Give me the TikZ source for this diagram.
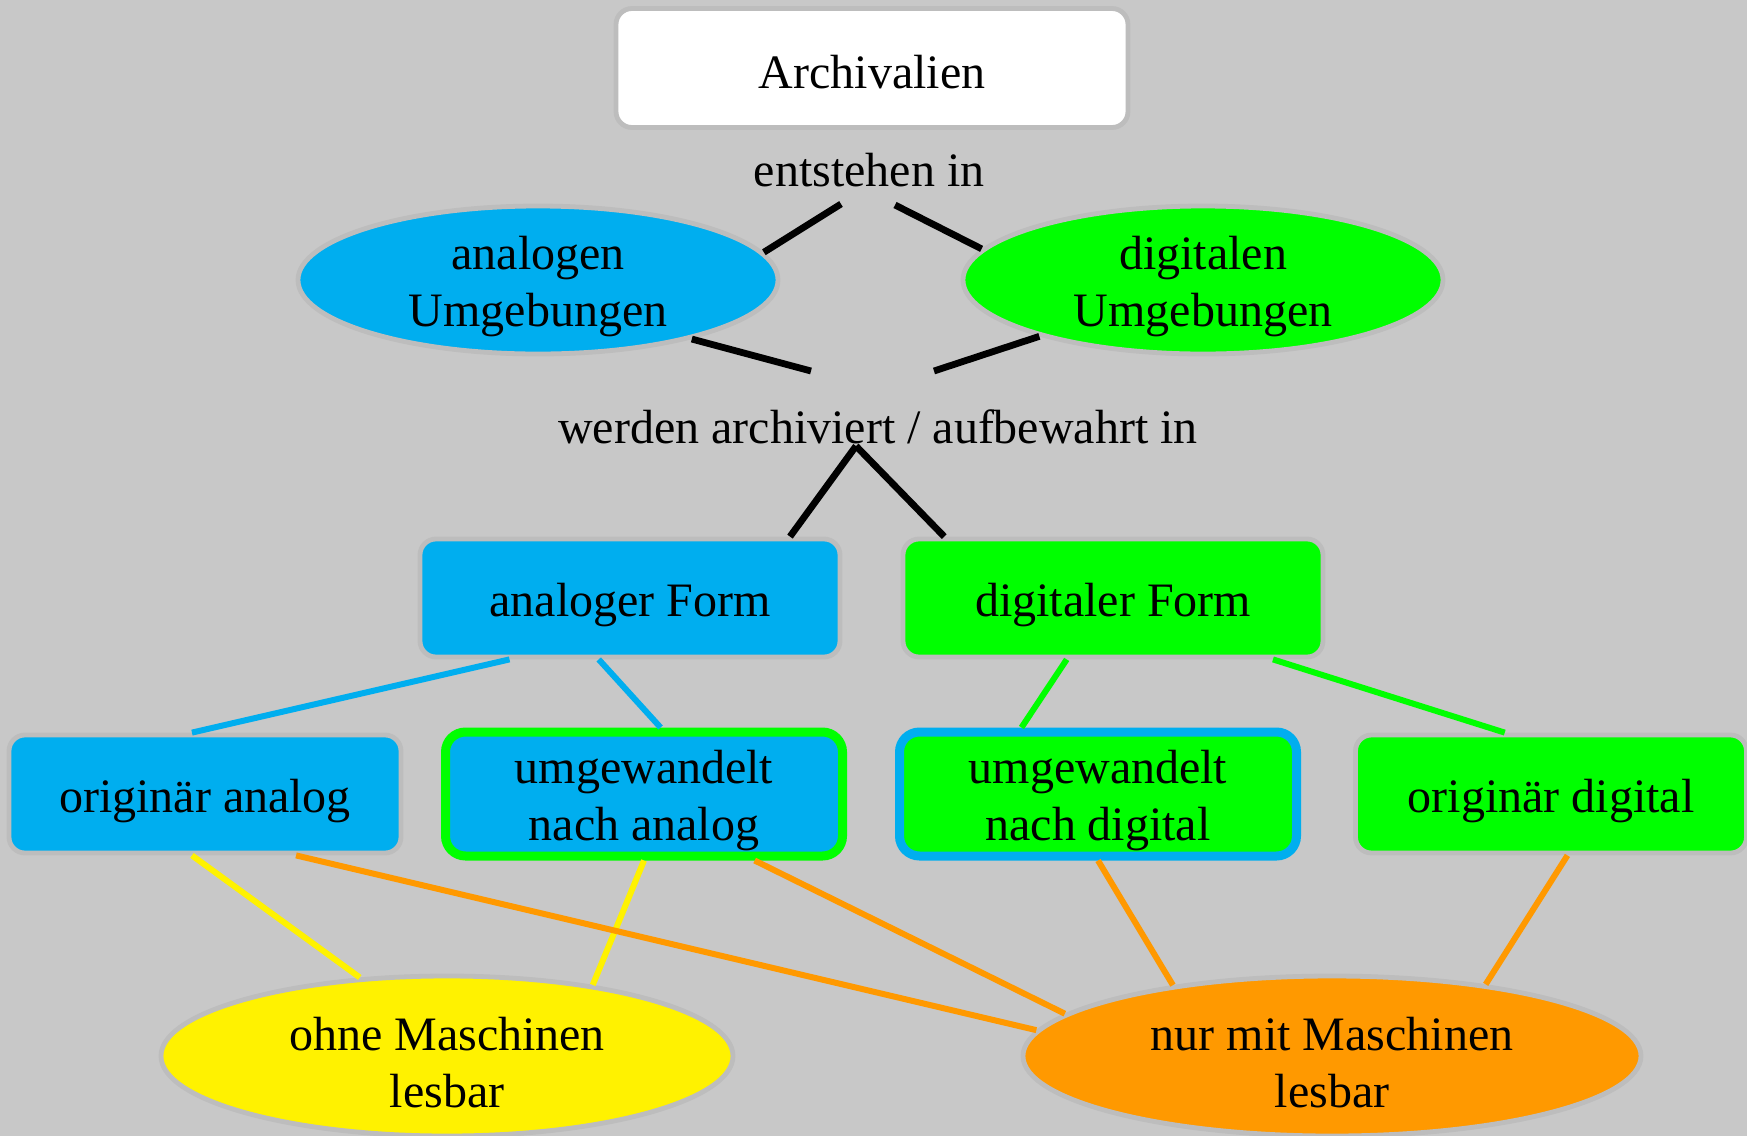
\documentclass[tikz,border=0pt]{standalone}
\usepackage{fontspec}
\setmainfont{Liberation Serif}
\usetikzlibrary{shapes.geometric, calc}

\definecolor{bgc}{HTML}{C8C8C8}
\definecolor{rand}{HTML}{BDBDBD}
\definecolor{ablau}{HTML}{00AEEF}
\definecolor{dgruen}{HTML}{00FF00}
\definecolor{gelb}{HTML}{FFF200}
\definecolor{morange}{HTML}{FF9900}

% fixed line heights, so that every text sits the same way in its node
\newcommand{\zeile}{\rule[-0.13em]{0pt}{1.11em}}
\newcommand{\hoch}{\rule{0pt}{0.95em}}

\begin{document}
\begin{tikzpicture}[
            x = 0.5pt, y = -0.5pt, % pixel grid, y pointing down
            font = \fontsize{24}{28.5}\selectfont,
            semithick % line style
        ]

        \tikzstyle{box}=[
            rectangle,
            rounded corners = 8pt,
            draw = rand,
            line width = 2.4pt,
            minimum width = 210pt,
            minimum height = 59pt,
            align = center
        ]
        \tikzstyle{zl}=[execute at begin node = \zeile, execute at end node = \zeile]
        \tikzstyle{conv}=[
            box,
            line width = 4.5pt,
            inner ysep = 0pt,
            minimum width = 198.5pt,
            minimum height = 62pt,
            rounded corners = 10pt
        ]
        \tikzstyle{blob}=[
            ellipse,
            draw = rand,
            line width = 2.4pt,
            inner ysep = -5pt,
            align = center
        ]
        \tikzstyle{lbl}=[inner sep = 0pt]
        \tikzstyle{verb}=[line width = 3.4pt, black]
        \tikzstyle{link}=[line width = 3pt]

        \path[use as bounding box, fill = bgc] (0,0) rectangle (1747,1136);

        \node[box, zl, fill = white, minimum width = 256pt, minimum height = 59.5pt] (arch) at (872,68) {Archivalien};
        \node[lbl] (ent) at (869,170) {entstehen in};
        \node[blob, fill = ablau, minimum width = 240pt, minimum height = 74pt] (ana) at (538,280) {\hoch analogen\\Umgebungen};
        \node[blob, fill = dgruen, minimum width = 240pt, minimum height = 74pt] (dig) at (1203,280) {\hoch digitalen\\Umgebungen};
        \node[lbl] (wer) at (878,427) {werden archiviert / aufbewahrt in};

        \node[box, zl, fill = ablau] (aform) at (630,598) {analoger Form};
        \node[box, zl, fill = dgruen] (dform) at (1113,598) {digitaler Form};

        \node[box, zl, fill = ablau, minimum width = 196pt] (origa) at (205,794) {originär analog};
        \node[conv, fill = ablau, draw = dgruen] (umga) at (644,794) {\hoch umgewandelt\\nach analog};
        \node[conv, fill = dgruen, draw = ablau] (umgd) at (1098,794) {\hoch umgewandelt\\nach digital};
        \node[box, zl, fill = dgruen, minimum width = 195.5pt] (origd) at (1551,794) {originär digital};

        \node[blob, fill = gelb, minimum width = 286pt, minimum height = 80pt] (ohne) at (447,1056) {\hoch ohne Maschinen\\lesbar};
        \node[blob, fill = morange, minimum width = 309pt, minimum height = 80pt] (nur) at (1332,1056) {\hoch nur mit Maschinen\\lesbar};

        \coordinate (ent-l) at ($(ent)+(-28,34)$);
        \coordinate (ent-r) at ($(ent)+(26,35)$);
        \coordinate (wer-l) at ($(wer)+(-67,-56)$);
        \coordinate (wer-r) at ($(wer)+(56,-56)$);
        \coordinate (wer-s) at ($(wer)+(-22,19)$);

        \draw[verb] (ent-l) -- (ana.7.5);
        \draw[verb] (ent-r) -- (dig.172);
        \draw[verb] (ana.-21.7) -- (wer-l);
        \draw[verb] (dig.-161.7) -- (wer-r);
        \draw[verb] (wer-s) -- (aform.21.8);
        \draw[verb] (wer-s) -- (dform.160.1);

        \draw[link, ablau] (aform.-153.8) -- (origa.102.4);
        \draw[link, ablau] (aform.-117.7) -- (umga.76.2);
        \draw[link, dgruen] (dform.-127.5) -- (umgd.139.5);
        \draw[link, dgruen] (dform.-21.4) -- (origd.127.3);

        \draw[link, gelb] (origa.-102) -- (ohne.138);
        \draw[link, gelb] (umga.south) -- (ohne.26.9);
        \draw[link, morange] (origa.-34) -- (nur.175.6);
        \draw[link, morange] (umga.-31.4) -- (nur.171.2);
        \draw[link, morange] (umgd.south) -- (nur.156.2);
        \draw[link, morange] (origd.-75.5) -- (nur.25.5);

  \end{tikzpicture}
\end{document}
